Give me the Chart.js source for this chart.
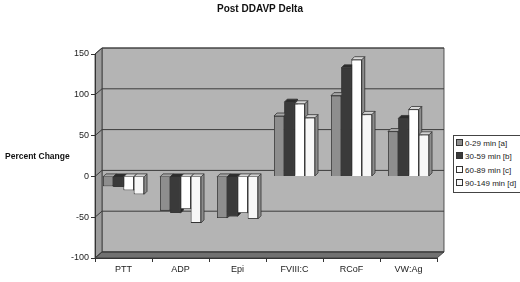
<!DOCTYPE html>
<html lang="en">
<head>
<meta charset="UTF-8">
<title>Post DDAVP Delta</title>
<script src="https://cdn.jsdelivr.net/npm/chart.js"></script>
<style>
  body { margin: 0; background: #fff; font-family: "Liberation Sans", Arial, sans-serif; }
  #wrap { position: relative; width: 520px; height: 282px; }
  #legend {
    position: absolute; left: 453px; top: 135px; width: 64px;
    border: 1px solid #444; padding: 1px 0 1px 2px; white-space: nowrap;
    font-size: 8px; color: #222; line-height: 13.4px; background: #fff;
  }
  .sw { display: inline-block; width: 5px; height: 5px; border: 1px solid #333; margin-right: 2px; vertical-align: 0px; }
</style>
</head>
<body>
<div id="wrap">
  <canvas id="c" width="520" height="282"></canvas>
  <div id="legend"></div>
</div>
<script>
const categories = ['PTT', 'ADP', 'Epi', 'FVIII:C', 'RCoF', 'VW:Ag'];
const seriesNames = ['0-29 min [a]', '30-59 min [b]', '60-89 min [c]', '90-149 min [d]'];
const min0to29 = [-12, -42, -51, 74, 99, 55];
const min30to59 = [-13, -45, -49, 91, 133, 71];
const min60to89 = [-17, -40, -45, 89, 143, 82];
const min90to149 = [-22, -57, -52, 72, 76, 51];
const yTicks = [-100, -50, 0, 50, 100, 150];

const fronts = ['#8e8e8e', '#3a3a3a', '#ffffff', '#f7f7f7'];
const sides = ['#5c5c5c', '#222222', '#8c8c8c', '#8c8c8c'];
const tops = ['#a6a6a6', '#2c2c2c', '#d9d9d9', '#d2d2d2'];

// wall depth and bar depth offsets
const DX = 7, DY = -6;
const BX = 3, BY = -3;

function poly(ctx, pts, fill) {
  ctx.beginPath();
  ctx.moveTo(pts[0][0], pts[0][1]);
  for (let i = 1; i < pts.length; i++) ctx.lineTo(pts[i][0], pts[i][1]);
  ctx.closePath();
  ctx.fillStyle = fill;
  ctx.fill();
  ctx.strokeStyle = '#333';
  ctx.lineWidth = 0.8;
  ctx.stroke();
}

const walls = {
  id: 'walls',
  beforeDraw(chart) {
    const { ctx, chartArea: ca, scales: { y } } = chart;
    ctx.save();
    // back wall
    poly(ctx, [[ca.left + DX, ca.top + DY], [ca.right + DX, ca.top + DY],
               [ca.right + DX, ca.bottom + DY], [ca.left + DX, ca.bottom + DY]], '#b4b4b4');
    // left wall
    poly(ctx, [[ca.left, ca.top], [ca.left + DX, ca.top + DY],
               [ca.left + DX, ca.bottom + DY], [ca.left, ca.bottom]], '#9c9c9c');
    // floor
    poly(ctx, [[ca.left, ca.bottom], [ca.left + DX, ca.bottom + DY],
               [ca.right + DX, ca.bottom + DY], [ca.right, ca.bottom]], '#707070');
    // gridlines on walls
    ctx.strokeStyle = '#3c3c3c';
    ctx.lineWidth = 1;
    yTicks.forEach(v => {
      const py = y.getPixelForValue(v);
      ctx.beginPath();
      ctx.moveTo(ca.left, py);
      ctx.lineTo(ca.left + DX, py + DY);
      ctx.lineTo(ca.right + DX, py + DY);
      ctx.stroke();
    });
    ctx.restore();
  },
  afterDatasetsDraw(chart) {
    const ctx = chart.ctx;
    const metas = chart.getSortedVisibleDatasetMetas();
    ctx.save();
    for (let i = 0; i < categories.length; i++) {
      metas.forEach((meta, k) => {
        const bar = meta.data[i];
        const { x, y, base, width } = bar.getProps(['x', 'y', 'base', 'width'], true);
        const l = x - width / 2, r = x + width / 2;
        const top = Math.min(y, base), bot = Math.max(y, base);
        poly(ctx, [[r, top], [r + BX, top + BY], [r + BX, bot + BY], [r, bot]], sides[k]);
        poly(ctx, [[l, top], [l + BX, top + BY], [r + BX, top + BY], [r, top]], tops[k]);
        bar.draw(ctx);
      });
    }
    ctx.restore();
  },
  afterDraw(chart) {
    const ctx = chart.ctx;
    ctx.save();
    ctx.font = 'bold 8.5px "Liberation Sans", Arial, sans-serif';
    ctx.fillStyle = '#111';
    ctx.textBaseline = 'middle';
    ctx.fillText('Percent Change', 5, 157);
    ctx.restore();
  }
};

const allSeries = [min0to29, min30to59, min60to89, min90to149];
const fontFam = '"Liberation Sans", Arial, sans-serif';

new Chart(document.getElementById('c'), {
  type: 'bar',
  data: {
    labels: categories,
    datasets: allSeries.map((vals, k) => ({
      label: seriesNames[k],
      data: vals,
      backgroundColor: fronts[k],
      borderColor: '#333',
      borderWidth: 0.8,
      categoryPercentage: 0.72,
      barPercentage: 1.0
    }))
  },
  options: {
    responsive: false,
    animation: false,
    layout: { padding: 0 },
    plugins: {
      legend: { display: false },
      tooltip: { enabled: false },
      title: {
        display: true,
        text: 'Post DDAVP Delta',
        color: '#111',
        font: { family: fontFam, size: 10, weight: 'bold' },
        padding: { top: 3, bottom: 39 }
      }
    },
    scales: {
      x: {
        grid: { drawOnChartArea: false, tickLength: 4, color: '#333', offset: true },
        border: { color: '#333' },
        ticks: { color: '#222', padding: 2, font: { family: fontFam, size: 9 } },
        afterFit: s => { s.height = 24; }
      },
      y: {
        min: -100,
        max: 150,
        grid: { drawOnChartArea: false, tickLength: 4, color: '#333' },
        border: { color: '#333' },
        ticks: { stepSize: 50, color: '#222', padding: 2, font: { family: fontFam, size: 9 } },
        afterFit: s => { s.width = 95; }
      },
      // empty right-hand axis that keeps room for the legend
      yRight: {
        position: 'right',
        min: -100,
        max: 150,
        grid: { display: false },
        border: { display: false },
        ticks: { display: false },
        afterFit: s => { s.width = 83; }
      }
    }
  },
  plugins: [walls]
});

document.getElementById('legend').innerHTML = seriesNames.map((n, k) =>
  `<div><span class="sw" style="background:${fronts[k]}"></span>${n}</div>`).join('');
</script>
</body>
</html>
